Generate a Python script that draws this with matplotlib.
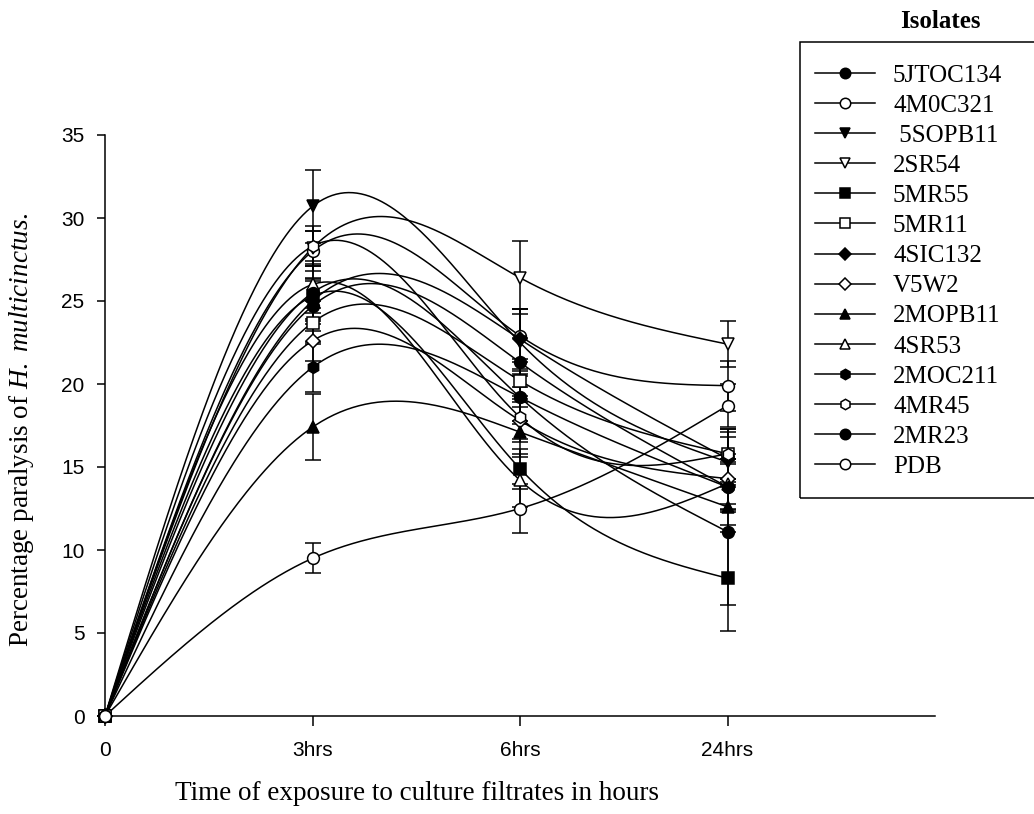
import matplotlib
matplotlib.use("Agg")
import matplotlib.pyplot as plt
from matplotlib.lines import Line2D
from matplotlib.patches import Rectangle
import numpy as np

plt.rcParams['mathtext.fontset'] = 'custom'
plt.rcParams['mathtext.rm'] = 'Liberation Serif'
plt.rcParams['mathtext.it'] = 'Liberation Serif:italic'

# data
time_labels = ["0", "3hrs", "6hrs", "24hrs"]
isolates = ["5JTOC134", "4M0C321", " 5SOPB11", "2SR54", "5MR55", "5MR11", "4SIC132",
            "V5W2", "2MOPB11", "4SR53", "2MOC211", "4MR45", "2MR23", "PDB"]

jtoc134 = [0, 24.7, 21.3, 13.8]
m0c321 = [0, 28.0, 22.9, 19.9]
sopb11 = [0, 30.7, 22.5, 15.3]
sr54 = [0, 28.2, 26.4, 22.4]
mr55 = [0, 25.3, 14.9, 8.3]
mr11 = [0, 23.7, 20.2, 15.8]
sic132 = [0, 25.0, 22.7, 15.5]
v5w2 = [0, 22.6, 17.8, 14.3]
mopb11 = [0, 17.4, 17.1, 12.6]
sr53 = [0, 26.0, 14.2, 14.0]
moc211 = [0, 21.0, 19.2, 13.8]
mr45 = [0, 28.3, 18.0, 15.8]
mr23 = [0, 25.5, 19.2, 11.1]
pdb = [0, 9.5, 12.5, 18.7]

jtoc134_err = [0, 1.5, 1.5, 1.5]
m0c321_err = [0, 1.2, 1.6, 1.5]
sopb11_err = [0, 2.2, 2.0, 1.5]
sr54_err = [0, 1.0, 2.2, 1.4]
mr55_err = [0, 1.0, 1.2, 3.2]
mr11_err = [0, 1.3, 1.3, 1.5]
sic132_err = [0, 1.4, 1.8, 1.6]
v5w2_err = [0, 1.2, 1.3, 1.5]
mopb11_err = [0, 2.0, 1.5, 1.5]
sr53_err = [0, 1.4, 1.6, 1.5]
moc211_err = [0, 1.5, 1.4, 1.4]
mr45_err = [0, 1.2, 1.3, 1.5]
mr23_err = [0, 1.6, 1.6, 4.4]
pdb_err = [0, 0.9, 1.5, 1.3]

series = [jtoc134, m0c321, sopb11, sr54, mr55, mr11, sic132, v5w2, mopb11, sr53,
          moc211, mr45, mr23, pdb]
errors = [jtoc134_err, m0c321_err, sopb11_err, sr54_err, mr55_err, mr11_err, sic132_err,
          v5w2_err, mopb11_err, sr53_err, moc211_err, mr45_err, mr23_err, pdb_err]
markers = ['o', 'o', 'v', 'v', 's', 's', 'D', 'D', '^', '^', 'h', 'h', 'o', 'o']
filled = [True, False, True, False, True, False, True, False, True, False, True, False, True, False]


def natural_spline(x, y, xs):
    x = np.asarray(x, float)
    y = np.asarray(y, float)
    n = len(x)
    h = np.diff(x)
    A = np.zeros((n, n))
    b = np.zeros(n)
    A[0, 0] = 1
    A[-1, -1] = 1
    for i in range(1, n - 1):
        A[i, i - 1] = h[i - 1]
        A[i, i] = 2 * (h[i - 1] + h[i])
        A[i, i + 1] = h[i]
        b[i] = 6 * ((y[i + 1] - y[i]) / h[i] - (y[i] - y[i - 1]) / h[i - 1])
    M = np.linalg.solve(A, b)
    idx = np.clip(np.searchsorted(x, xs) - 1, 0, n - 2)
    x0, x1 = x[idx], x[idx + 1]
    hh = x1 - x0
    a = (x1 - xs) / hh
    t = (xs - x0) / hh
    return (M[idx] * a ** 3 * hh ** 2 / 6 + M[idx + 1] * t ** 3 * hh ** 2 / 6
            + (y[idx] - M[idx] * hh ** 2 / 6) * a + (y[idx + 1] - M[idx + 1] * hh ** 2 / 6) * t)


fig = plt.figure(figsize=(10.34, 8.14), dpi=100)
ax = fig.add_axes([105 / 1034, 98 / 814, 830 / 1034, 581 / 814])

xpos = np.arange(len(time_labels))
xs = np.linspace(0, 3, 300)
handles = []
for vals, err, m, f, name in zip(series, errors, markers, filled, isolates):
    ax.plot(xs, natural_spline(xpos, vals, xs), color='black', lw=1.1, zorder=2, clip_on=False)
    ms = 7 if m == 'D' else 8.5
    fc = 'black' if f else 'white'
    ax.errorbar(xpos[1:], vals[1:], yerr=err[1:], fmt='none', ecolor='black',
                elinewidth=1.1, capsize=6, capthick=1.1, zorder=3)
    ax.plot(xpos, vals, linestyle='none', marker=m, ms=ms, mfc=fc, mec='black',
            mew=1.1, zorder=4, clip_on=False)
    handles.append(Line2D([], [], color='black', lw=1.1, marker=m, ms=ms - 1,
                          mfc=fc, mec='black', mew=1.1, label=name))

ax.set_xlim(0, 4)
ax.set_ylim(0, 35)
ax.set_xticks(xpos)
ax.set_xticklabels(time_labels)
ax.set_yticks(np.arange(0, 36, 5))
for s in ['top', 'right']:
    ax.spines[s].set_visible(False)
for s in ['left', 'bottom']:
    ax.spines[s].set_linewidth(1.1)
ax.tick_params(axis='x', direction='out', length=7.2, width=1.1, labelsize=15, pad=11)
ax.tick_params(axis='y', direction='out', length=5.8, width=1.1, labelsize=15, pad=9)
for lab in ax.get_xticklabels() + ax.get_yticklabels():
    lab.set_fontfamily('Liberation Sans')

fig.text(417 / 1034, 1 - 793 / 814, "Time of exposure to culture filtrates in hours",
         family='Liberation Serif', fontsize=19.5, ha='center', va='center')
fig.text(22 / 1034, 1 - 430 / 814,
         r"Percentage paralysis of $\mathit{H.\ multicinctus.}$",
         family='Liberation Serif', fontsize=19.5, ha='center', va='center', rotation=90)

fig.add_artist(Rectangle((800 / 1034, 1 - 498 / 814), 0.3, 456 / 814,
                         transform=fig.transFigure, fill=False, ec='black', lw=1.1,
                         clip_on=False))
fig.text(940 / 1034, 1 - 22 / 814, "Isolates", family='Liberation Serif',
         fontweight='bold', fontsize=18, ha='center', va='center')
fig.legend(handles=handles, loc='upper left', bbox_to_anchor=(815 / 1034, 1 - 64 / 814),
           frameon=False, prop={'family': 'Liberation Serif', 'size': 18},
           handlelength=2.4, labelspacing=0.305, handletextpad=0.72, borderaxespad=0,
           borderpad=0)

fig.savefig("out.png", dpi=100)
